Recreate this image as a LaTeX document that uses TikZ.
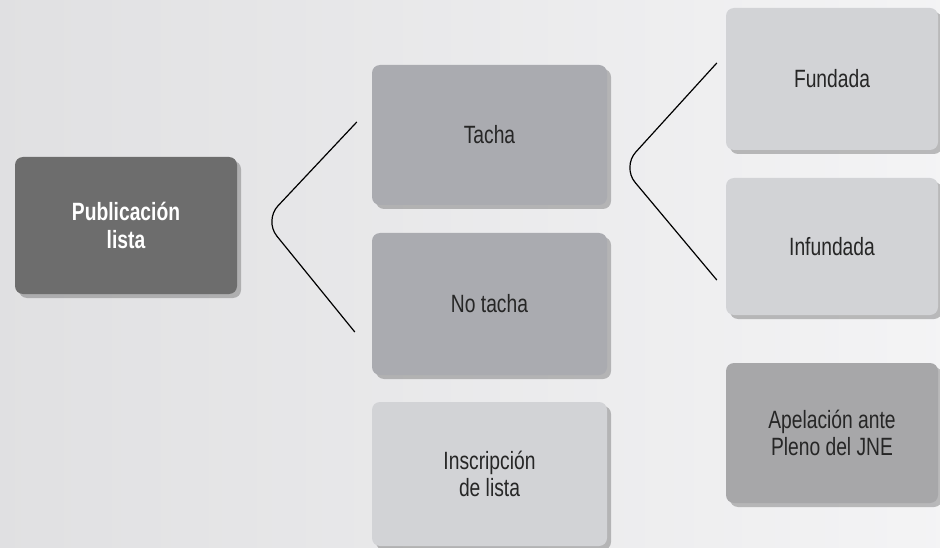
\documentclass[tikz,border=0pt]{standalone}
\usepackage{fontspec}
\setmainfont{Liberation Sans}[FakeStretch=0.77]
\usetikzlibrary{calc, shadows}
\definecolor{PaperGray}{HTML}{ECECEE}
\definecolor{DarkBox}{HTML}{6D6D6D}
\definecolor{MidBox}{HTML}{AAABB0}
\definecolor{LightBox}{HTML}{D2D3D6}
\definecolor{AppealBox}{HTML}{A7A7A9}
\definecolor{Ink}{HTML}{262626}

\begin{document}
\begin{tikzpicture}[x=1pt, y=-1pt,
    card/.style={rectangle, rounded corners=8pt, inner sep=0pt, align=center,
        text=Ink, font=\fontsize{25}{27}\selectfont,
        drop shadow={shadow xshift=4pt, shadow yshift=-4pt, opacity=0.35, fill=black!70}},
    bracket/.style={draw=black, line width=1.2pt, rounded corners=20pt}]
            \useasboundingbox (0,0) rectangle (940,548);
            \fill[left color=PaperGray!95!black, right color=PaperGray!60!white] (0,0) rectangle (940,548);

            % left column
            \node[card, fill=DarkBox, text=white, minimum width=222pt, minimum height=137pt,
                font=\bfseries\fontsize{25}{28}\selectfont] (pub) at (126,225.5) {Publicación\\lista};

            % middle column
            \node[card, fill=MidBox, minimum width=235pt, minimum height=140pt] (tacha) at (489.5,135) {Tacha};
            \node[card, fill=MidBox, minimum width=235pt, minimum height=142pt] (notacha) at (489.5,304) {No tacha};
            \node[card, fill=LightBox, minimum width=235pt, minimum height=144pt] (inscr) at (489.5,474) {Inscripción\\de lista};

            % right column
            \node[card, fill=LightBox, minimum width=212pt, minimum height=142pt] (fund) at (832,79) {Fundada};
            \node[card, fill=LightBox, minimum width=212pt, minimum height=137pt] (infund) at (832,246.5) {Infundada};
            \node[card, fill=AppealBox, minimum width=212pt, minimum height=140pt] (apel) at (832,433) {Apelación ante\\Pleno del JNE};

            % brackets
            \coordinate (b1top) at ($(tacha.west)+(-15,-13)$);
            \coordinate (b1tip) at ($(pub.east)+(27,-5)$);
            \coordinate (b1bot) at ($(notacha.west)+(-17,28)$);
            \draw[bracket] (b1top) -- (b1tip) -- (b1bot);

            \coordinate (b2top) at ($(fund.west)+(-9,-16)$);
            \coordinate (b2tip) at ($(tacha.east)+(15,32)$);
            \coordinate (b2bot) at ($(infund.west)+(-9,33.5)$);
            \draw[bracket] (b2top) -- (b2tip) -- (b2bot);
        \end{tikzpicture}
\end{document}
